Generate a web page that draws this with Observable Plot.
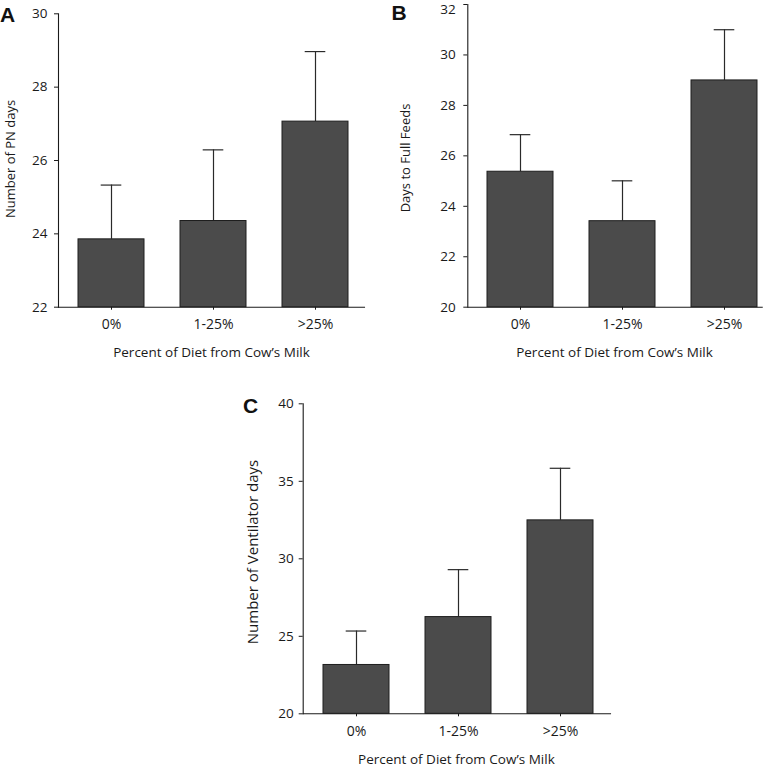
<!DOCTYPE html>
<html><head><meta charset="utf-8">
<script src="https://cdn.jsdelivr.net/npm/d3@7"></script>
<script src="https://cdn.jsdelivr.net/npm/@observablehq/plot@0.6"></script>
<style>
body{margin:0;background:#fff;}
#wrap{position:relative;width:777px;height:768px;overflow:hidden;background:#fff;font-family:"Open Sans",sans-serif;color:#1a1a1a;}
.panel{position:absolute;}
.tag{position:absolute;font-family:"Liberation Sans",Arial,sans-serif;font-weight:bold;font-size:21px;line-height:21px;color:#111;}
.ttl{position:absolute;white-space:nowrap;line-height:1;transform:translate(-50%,-50%);}
.ttl.rot{transform:translate(-50%,-50%) rotate(-90deg);}
</style></head><body>
<div id="wrap">
  <div class="panel" id="pa" style="left:0px;top:0px"></div>
  <div class="panel" id="pb" style="left:390px;top:0px"></div>
  <div class="panel" id="pc" style="left:200px;top:370px"></div>
  <div class="tag" style="left:0px;top:4px">A</div>
  <div class="tag" style="left:391.5px;top:2px">B</div>
  <div class="tag" style="left:243px;top:395px">C</div>
  <div class="ttl rot" id="ya" style="left:10px;top:159px;font-size:13px"></div>
  <div class="ttl" id="xa" style="left:211.5px;top:353px;font-size:13.5px"></div>
  <div class="ttl rot" id="yb" style="left:405px;top:158px;font-size:13px"></div>
  <div class="ttl" id="xb" style="left:614.5px;top:353px;font-size:13.5px"></div>
  <div class="ttl rot" id="yc" style="left:252px;top:552px;font-size:15px"></div>
  <div class="ttl" id="xc" style="left:456.4px;top:760px;font-size:13.5px"></div>
</div>
<script>
// ---- data ----
const categories = ["0%", "1-25%", ">25%"];
const pnDays   = [23.85, 24.35, 27.06];
const pnErr    = [25.33, 26.29, 28.97];
const feedDays = [25.37, 23.41, 28.99];
const feedErr  = [26.84, 25.01, 31.00];
const ventDays = [23.15, 26.24, 32.48];
const ventErr  = [25.34, 29.30, 35.84];
const ticksA = [22, 24, 26, 28, 30];
const ticksB = [20, 22, 24, 26, 28, 30, 32];
const ticksC = [20, 25, 30, 35, 40];
const xTitle = "Percent of Diet from Cow’s Milk";
const yTitleA = "Number of PN days";
const yTitleB = "Days to Full Feeds";
const yTitleC = "Number of Ventilator days";

function panel(o) {
  const data = categories.map((c, i) => ({cat: c, v: o.values[i], e: o.errs[i]}));
  const base = o.ticks[0];
  const top = o.ticks[o.ticks.length - 1];
  const axes = [];
  if (o.topDy) {
    // top tick label nudged down so it stays inside the picture
    axes.push(Plot.axisY({ticks: o.ticks, tickSize: 4, tickPadding: o.yPad, tickFormat: d => d === top ? "" : String(d), fontSize: o.yFont, label: null}));
    axes.push(Plot.axisY({ticks: [top], tickSize: 0, tickPadding: o.yPad + 4, tickFormat: d => String(d), fontSize: o.yFont, dy: o.topDy, label: null}));
  } else {
    axes.push(Plot.axisY({ticks: o.ticks, tickSize: 4, tickPadding: o.yPad, tickFormat: d => String(d), fontSize: o.yFont, label: null}));
  }
  return Plot.plot({
    width: o.width, height: o.height,
    marginLeft: o.ml, marginRight: o.mr, marginTop: o.mt, marginBottom: o.mb,
    style: {fontFamily: '"Open Sans", sans-serif', fontSize: "13px", color: "#1a1a1a", background: "#fff", overflow: "visible"},
    x: {type: "band", domain: categories, range: o.xRange, paddingInner: 0.353, paddingOuter: 0, label: null},
    y: {domain: [base, top], label: null},
    marks: [
      Plot.ruleX(data, {x: "cat", y1: "v", y2: "e", stroke: "#2a2a2a", strokeWidth: 1.2}),
      Plot.tickY(data, {x: "cat", y: "e", stroke: "#2a2a2a", strokeWidth: 1.2, insetLeft: 22.7, insetRight: 22.7}),
      Plot.barY(data, {x: "cat", y1: base, y2: "v", fill: "#4b4b4b", stroke: "#1e1e1e", strokeWidth: 1}),
      Plot.frame({anchor: "left", stroke: "#1a1a1a", strokeWidth: 1.1}),
      Plot.frame({anchor: "bottom", stroke: "#1a1a1a", strokeWidth: 1.1}),
      ...axes,
      Plot.axisX({tickSize: 3, tickPadding: o.xPad, fontSize: 14, label: null})
    ]
  });
}

document.getElementById("pa").append(panel({
  values: pnDays, errs: pnErr, ticks: ticksA, width: 380, height: 370,
  ml: 58, mr: 16, mt: 13.3, mb: 63.3, xRange: [77, 348.3], yPad: 7, xPad: 9, yFont: 13.5
}));
document.getElementById("pb").append(panel({
  values: feedDays, errs: feedErr, ticks: ticksB, width: 387, height: 370,
  ml: 77.3, mr: 15.3, mt: 4, mb: 63.3, xRange: [96, 367.3], yPad: 8, xPad: 9, yFont: 13.5, topDy: 5.5
}));
document.getElementById("pc").append(panel({
  values: ventDays, errs: ventErr, ticks: ticksC, width: 420, height: 398,
  ml: 102.7, mr: 10, mt: 33.3, mb: 54.7, xRange: [122, 393.3], yPad: 5.5, xPad: 9.5, yFont: 13.5
}));
document.getElementById("ya").textContent = yTitleA;
document.getElementById("yb").textContent = yTitleB;
document.getElementById("yc").textContent = yTitleC;
document.getElementById("xa").textContent = xTitle;
document.getElementById("xb").textContent = xTitle;
document.getElementById("xc").textContent = xTitle;
</script>
</body></html>
